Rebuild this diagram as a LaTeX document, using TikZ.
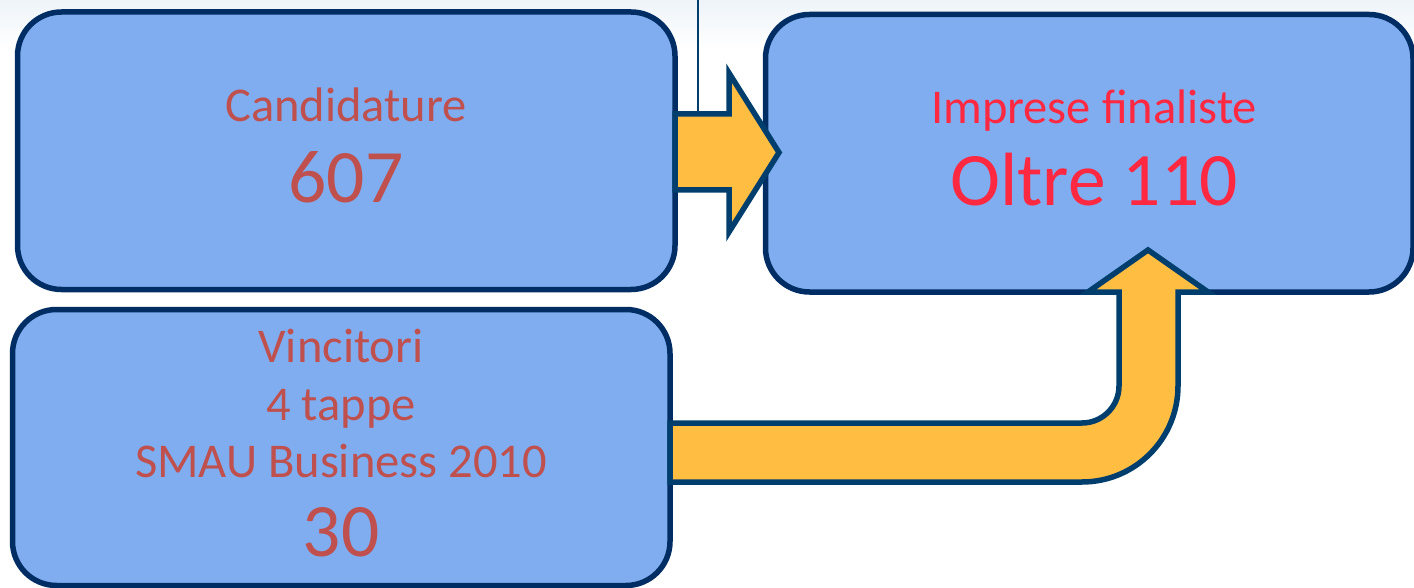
\documentclass[tikz,border=0pt]{standalone}
\usepackage{fontspec}
\setmainfont{Carlito}
\definecolor{boxfill}{RGB}{127,173,240}
\definecolor{boxline}{RGB}{0,45,100}
\definecolor{arrline}{RGB}{0,62,110}
\definecolor{arrfill}{RGB}{255,190,66}
\definecolor{txtred}{RGB}{192,80,77}
\definecolor{brightred}{RGB}{255,40,65}
\definecolor{bgtop}{RGB}{238,244,249}
\tikzset{
  panel/.style={draw=boxline, fill=boxfill, line width=5.5pt, rounded corners=44pt, inner sep=0pt, rectangle},
  arrowshape/.style={draw=arrline, fill=arrfill, line width=5.5pt, line join=miter},
  small/.style={anchor=base, font=\fontsize{48.5}{58}\selectfont, inner sep=0pt},
  big/.style={anchor=base, font=\fontsize{75.5}{90}\selectfont, inner sep=0pt},
}
\begin{document}
\begin{tikzpicture}[x=1pt,y=-1pt]
\useasboundingbox (0,0) rectangle (1414,588);
\shade[top color=bgtop, bottom color=white] (0,0) rectangle (1414,50);
\fill[white] (0,50) rectangle (1414,588);
% boxes
\node[panel, minimum width=657.5pt, minimum height=277.5pt] (cand) at (346.25,150.75) {};
\node[panel, minimum width=647.5pt, minimum height=277.5pt] (fin) at (1089.25,153.25) {};
\node[panel, minimum width=657.5pt, minimum height=276pt] (vin) at (341.25,447.5) {};
% thin line
\coordinate (ltop) at (698,0);
\coordinate (lbot) at (698,114);
\draw[arrline, line width=2pt] (ltop) -- (lbot);
% arrow 1
\draw[arrowshape] (675,114) -- (729,114) -- (729,73) -- (779,152.5) -- (729,232) -- (729,190) -- (675,190) -- cycle;
% arrow 2
\draw[arrowshape] (670,423) -- (1082,423)
  .. controls (1102.4,423) and (1119,406.4) .. (1119,386)
  -- (1119,292) -- (1088,292) -- (1148,250) -- (1208,292) -- (1178,292) -- (1178,386)
  .. controls (1178,439) and (1135,482) .. (1082,482)
  -- (670,482) -- cycle;
% texts
\node[small, text=txtred] (t1) at (346,122) {Candidature};
\node[big, text=txtred] (t2) at (346,203) {607};
\node[small, text=brightred] (t3) at (1094,124) {Imprese finaliste};
\node[big, text=brightred] (t4) at (1094,206) {Oltre 110};
\node[small, text=txtred] (t5) at (341,362) {Vincitori};
\node[small, text=txtred] (t6) at (341,420) {4 tappe};
\node[small, text=txtred] (t7) at (341,477) {SMAU Business 2010};
\node[big, text=txtred] (t8) at (341,556) {30};
\end{tikzpicture}
\end{document}
